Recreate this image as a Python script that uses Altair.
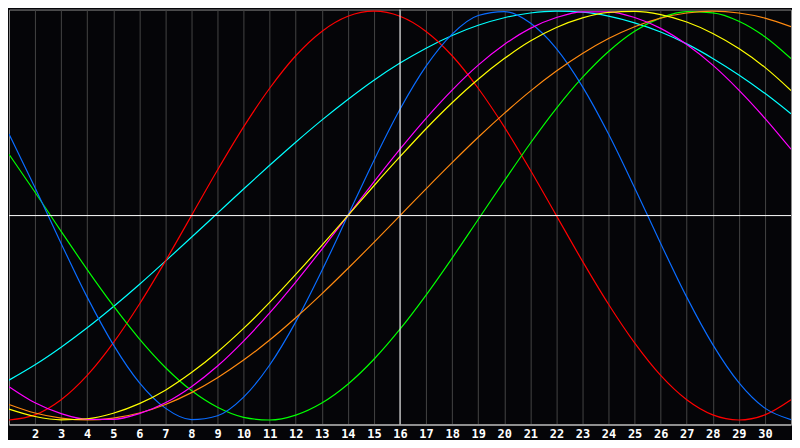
import altair as alt
import pandas as pd

# Days of the month shown on the x axis
days = list(range(1, 32))
tick_days = list(range(2, 31))
today = [16]

# Curve values (percent, -100..100), one per day
physical = [39.9, 13.6, -13.6, -39.9, -63.1, -81.7, -94.2, -99.8, -97.9, -88.8, -73.1, -52.0, -27.0, 0, 27.0,
            52.0, 73.1, 88.8, 97.9, 99.8, 94.2, 81.7, 63.1, 39.9, 13.6, -13.6, -39.9, -63.1, -81.7, -94.2, -99.8]
emotional = [-100, -97.5, -90.1, -78.2, -62.3, -43.4, -22.3, 0, 22.3, 43.4, 62.3, 78.2, 90.1, 97.5, 100,
             97.5, 90.1, 78.2, 62.3, 43.4, 22.3, 0, -22.3, -43.4, -62.3, -78.2, -90.1, -97.5, -100, -97.5, -90.1]
intellectual = [30.0, 11.4, -7.7, -26.4, -44.1, -60.3, -74.3, -85.6, -93.8, -98.7, -100, -97.6, -91.7, -82.5, -70.3,
                -55.6, -38.9, -20.8, -1.9, 17.0, 35.4, 52.5, 67.6, 80.3, 90.2, 96.7, 99.8, 99.2, 95.1, 87.5, 76.8]
intuitive = [-83.7, -91.6, -96.9, -99.7, -99.7, -96.9, -91.6, -83.7, -73.6, -61.4, -47.6, -32.5, -16.5, 0, 16.5,
             32.5, 47.6, 61.4, 73.6, 83.7, 91.6, 96.9, 99.7, 99.7, 96.9, 91.6, 83.7, 73.6, 61.4, 47.6, 32.5]
aesthetic = [-94.7, -98.3, -99.9, -99.4, -96.7, -92.0, -85.4, -76.8, -66.7, -55.2, -42.5, -28.8, -14.6, 0, 14.6,
             28.8, 42.5, 55.2, 66.7, 76.8, 85.4, 92.0, 96.7, 99.4, 99.9, 98.3, 94.7, 89.1, 81.7, 72.5, 61.2]
awareness = [-92.4, -96.6, -99.1, -100, -99.1, -96.6, -92.4, -86.6, -79.3, -70.7, -60.9, -50.0, -38.3, -25.9, -13.1,
             0, 13.1, 25.9, 38.3, 50.0, 60.9, 70.7, 79.3, 86.6, 92.4, 96.6, 99.1, 100, 99.1, 96.6, 92.4]
spiritual = [-80.5, -73.0, -64.4, -54.9, -44.6, -33.7, -22.3, -10.6, 1.2, 13.0, 24.6, 35.9, 46.7, 56.8, 66.2,
             74.6, 81.9, 88.1, 93.1, 96.8, 99.1, 100, 99.5, 97.6, 94.3, 89.8, 84.0, 76.9, 68.8, 59.8, 49.8]

series_names = ["Spiritual", "Emotional", "Intellectual", "Physical", "Awareness", "Intuitive", "Aesthetic"]
series_values = [spiritual, emotional, intellectual, physical, awareness, intuitive, aesthetic]
series_colors = ["#00ffff", "#ff0000", "#00ff00", "#0a6cff", "#ff8a10", "#ff00ff", "#ffff00"]

rows = []
for name, vals in zip(series_names, series_values):
    for d, v in zip(days, vals):
        rows.append({"day": d, "value": v, "series": name})
df = pd.DataFrame(rows)

x_scale = alt.Scale(domain=[1, 31], nice=False, zero=False)
y_scale = alt.Scale(domain=[-102.2, 100.8], nice=False, zero=False)

x_axis = alt.Axis(
    values=tick_days, grid=True, gridColor="#444444", gridWidth=1,
    ticks=False, domain=True, domainColor="#a8a8a8", domainWidth=1.5,
    labelColor="white", labelFont="DejaVu Sans Mono", labelFontWeight="bold",
    labelFontSize=12, labelPadding=4, labelFlush=False, labelOverlap=False,
    format="d", title=None,
)

base = alt.Chart(df).mark_line(strokeWidth=1.2, interpolate="monotone", clip=True).encode(
    x=alt.X("day:Q", scale=x_scale, axis=x_axis),
    y=alt.Y("value:Q", scale=y_scale, axis=None),
    color=alt.Color("series:N", scale=alt.Scale(domain=series_names, range=series_colors), legend=None),
)

vrule = alt.Chart(pd.DataFrame({"day": today})).mark_rule(color="white", strokeWidth=1).encode(
    x=alt.X("day:Q", scale=x_scale, axis=x_axis)
)
hrule = alt.Chart(pd.DataFrame({"value": [0]})).mark_rule(color="white", strokeWidth=1).encode(
    y=alt.Y("value:Q", scale=y_scale, axis=None)
)

chart = alt.layer(base, vrule, hrule).properties(
    width=784, height=416, background="#050508", padding=0
).configure_view(
    stroke="#8a8a8a", strokeWidth=1, fill="#050508"
)

chart.save("out.html", embed_options={"renderer": "svg", "actions": False})
